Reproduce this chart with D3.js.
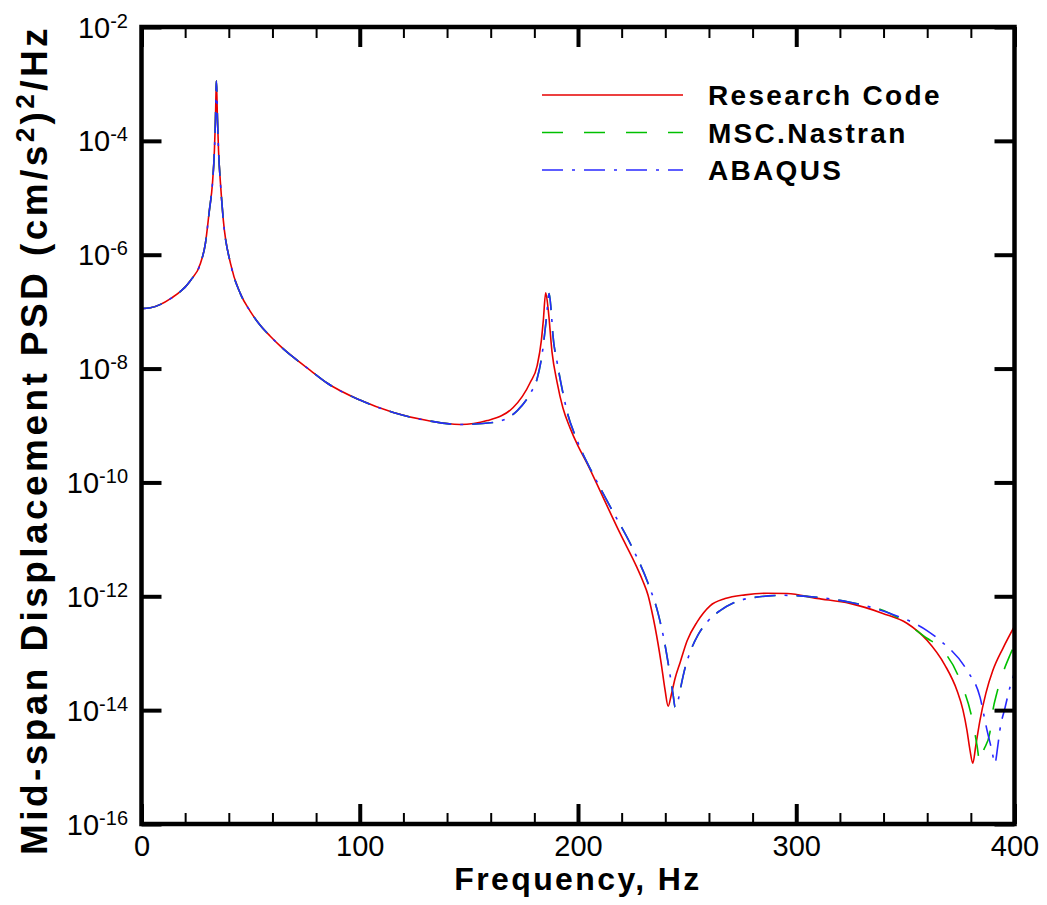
<html>
<head>
<meta charset="utf-8">
<title>Mid-span displacement PSD</title>
<style>
  body { margin: 0; background: #fff; }
  svg text { font-family: "Liberation Sans", Arial, Helvetica, sans-serif; fill: #000; }
  .axis .domain { display: none; }
  .axis line { stroke: #000; }
  .major line { stroke-width: 4; }
  .minor line { stroke-width: 2; }
  .xlab text { font-size: 29px; }
</style>
</head>
<body>
<script src="https://cdn.jsdelivr.net/npm/d3@7/dist/d3.min.js"></script>
<script>

// ---- data ----
// 0 - 150 Hz: the three codes overlap
var lowFreq = [0, 4.1, 13.3, 22.4, 27.0, 29.3, 31.1, 32.5, 33.4, 33.9, 34.3, 34.8, 35.3, 36.2, 37.5,
               40.8, 45.3, 49.7, 54.3, 58.9, 63.5, 69.4, 77.2, 85.0, 100.1, 115.4, 131.0, 146.0];
var lowPsd  = [1.13e-7, 1.17e-7, 1.69e-7, 3.5e-7, 7.0e-7, 1.6e-6, 6.0e-6, 1.76e-5, 6.7e-5, 2.5e-4, 1.13e-3,
               2.5e-4, 6.7e-5, 1.76e-5, 4.0e-6, 6.95e-7, 2.07e-7, 1.03e-7, 5.83e-8, 3.73e-8, 2.5e-8, 1.6e-8,
               9.4e-9, 5.58e-9, 2.8e-9, 1.69e-9, 1.22e-9, 1.04e-9];

// Research Code above 150 Hz
var researchFreq = [158.4, 170.3, 178.1, 181.3, 183.2, 184.1, 185.2, 186.4, 188.1, 190.4, 193.1, 196.4,
                    200.0, 204.1, 211.5, 219.3, 227.1, 229.7, 232.1, 233.7, 235.3, 238.1, 239.9, 241.3,
                    242.7, 244.5, 246.8, 250.0, 254.6, 260.5, 267.4, 276.6, 286.6, 295.8, 309.5, 324.6,
                    339.7, 350.7, 359.9, 368.1, 373.6, 376.4, 378.2, 379.6, 380.9, 382.3, 384.2, 386.9,
                    390.1, 394.7, 400];
var researchPsd  = [1.22e-9, 2.07e-9, 5.7e-9, 1.13e-8, 3.1e-8, 6.95e-8, 2.15e-7, 1.04e-7, 1.95e-8, 5.8e-9,
                    2.03e-9, 9.0e-10, 4.37e-10, 2.19e-10, 5.46e-11, 1.27e-11, 3.16e-12, 1.86e-12, 1.04e-12,
                    5.74e-13, 2.89e-13, 6.73e-14, 2.24e-14, 1.17e-14, 1.83e-14, 3.64e-14, 6.9e-14, 1.66e-13,
                    3.55e-13, 6.8e-13, 9.1e-13, 1.06e-12, 1.13e-12, 1.12e-12, 9.2e-13, 7.5e-13, 5.0e-13,
                    3.36e-13, 1.69e-13, 6.2e-14, 2.24e-14, 1.0e-14, 4.46e-15, 1.99e-15, 1.17e-15, 2.43e-15,
                    6.7e-15, 1.99e-14, 5.0e-14, 1.22e-13, 2.98e-13];

// MSC.Nastran and ABAQUS overlap from 150 to ~345 Hz
var femFreq = [161.2, 172.2, 178.1, 181.3, 183.6, 185.4, 186.8, 187.7, 188.5, 190.4, 193.1, 195.4,
               198.6, 201.8, 206.4, 215.6, 224.8, 232.1, 236.7, 239.9, 242.2, 243.6, 244.5, 245.9,
               246.8, 249.1, 251.4, 255.0, 259.2, 265.1, 271.1, 278.8, 294.0, 309.5, 324.6, 343.0];
var femPsd  = [1.13e-9, 1.83e-9, 3.64e-9, 6.7e-9, 1.83e-8, 6.95e-8, 2.07e-7, 1.04e-7, 3.9e-8, 1.31e-8,
               3.72e-9, 1.53e-9, 6.8e-10, 3.43e-10, 1.52e-10, 3.28e-11, 7.24e-12, 1.69e-12, 5.0e-13,
               1.38e-13, 4.1e-14, 1.83e-14, 1.13e-14, 1.5e-14, 2.24e-14, 5.6e-14, 1.05e-13, 2.1e-13,
               3.55e-13, 5.6e-13, 7.6e-13, 9.3e-13, 1.04e-12, 9.6e-13, 7.85e-13, 5.0e-13];

var nastranTailFreq = [359.9, 365.8, 375.0, 381.0, 382.8, 384.2, 385.5, 388.7, 390.1, 391.9, 397.9, 400];
var nastranTailPsd  = [1.83e-13, 1.27e-13, 3.36e-14, 5.9e-15, 2.43e-15, 1.17e-15, 1.8e-15, 4.0e-15,
                       1.0e-14, 1.99e-14, 9.2e-14, 1.38e-13];

var abaqusTailFreq = [359.9, 365.8, 378.2, 384.2, 387.4, 389.6, 391.0, 392.4, 393.3, 395.6, 397.9, 400];
var abaqusTailPsd  = [2.5e-13, 1.69e-13, 5.0e-14, 1.69e-14, 4.46e-15, 2.0e-15, 1.17e-15, 2.43e-15,
                      4.46e-15, 1.08e-14, 2.5e-14, 4.6e-14];

var seriesNames = ["Research Code", "MSC.Nastran", "ABAQUS"];

var xMajorTicks = [0, 100, 200, 300, 400];
var xMinorTicks = [20, 40, 60, 80, 120, 140, 160, 180, 220, 240, 260, 280, 320, 340, 360, 380];
var yMajorTicks = [1e-2, 1e-4, 1e-6, 1e-8, 1e-10, 1e-12, 1e-14, 1e-16];
var yTickExponents = ["-2", "-4", "-6", "-8", "-10", "-12", "-14", "-16"];

function pairs(f, p) {
  return f.map(function(d, i) { return [d, p[i]]; });
}

var series = [
  { name: seriesNames[0], color: "#e60000", dash: null,
    values: pairs(lowFreq, lowPsd).concat(pairs(researchFreq, researchPsd)) },
  { name: seriesNames[1], color: "#00c000", dash: "21,21",
    values: pairs(lowFreq, lowPsd).concat(pairs(femFreq, femPsd), pairs(nastranTailFreq, nastranTailPsd)) },
  { name: seriesNames[2], color: "#2828ff", dash: "21,9,3,9",
    values: pairs(lowFreq, lowPsd).concat(pairs(femFreq, femPsd), pairs(abaqusTailFreq, abaqusTailPsd)) }
];

// ---- layout ----
var width = 1047, height = 905;
var plotLeft = 141.5, plotRight = 1014.5, plotTop = 27, plotBottom = 824;

var svg = d3.select("body").append("svg")
    .attr("width", width)
    .attr("height", height);

var x = d3.scaleLinear().domain([0, 400]).range([plotLeft, plotRight]);
var y = d3.scaleLog().domain([1e-16, 1e-2]).range([plotBottom, plotTop]);

// clip so curves stay inside the frame
svg.append("clipPath").attr("id", "plot")
  .append("rect").attr("x", plotLeft).attr("y", plotTop)
  .attr("width", plotRight - plotLeft).attr("height", plotBottom - plotTop);

var line = d3.line()
    .x(function(d) { return x(d[0]); })
    .y(function(d) { return y(d[1]); })
    .curve(d3.curveMonotoneX);

svg.append("g").attr("clip-path", "url(#plot)")
  .selectAll("path")
  .data(series)
  .enter()
  .append("path")
  .attr("d", function(d) { return line(d.values); })
  .attr("fill", "none")
  .attr("stroke", function(d) { return d.color; })
  .attr("stroke-width", 1.6)
  .attr("stroke-dasharray", function(d) { return d.dash; });

// ---- axes ----
function tidy(g) {
  g.attr("font-size", null).attr("font-family", null);
}

svg.append("g").attr("class", "axis major xlab")
  .attr("transform", "translate(0," + plotBottom + ")")
  .call(d3.axisBottom(x).tickValues(xMajorTicks).tickSize(-20).tickPadding(11).tickFormat(d3.format("d")))
  .call(tidy);
svg.append("g").attr("class", "axis minor")
  .attr("transform", "translate(0," + plotBottom + ")")
  .call(d3.axisBottom(x).tickValues(xMinorTicks).tickSize(-11).tickFormat(""));
svg.append("g").attr("class", "axis major")
  .attr("transform", "translate(0," + plotTop + ")")
  .call(d3.axisTop(x).tickValues(xMajorTicks).tickSize(-20).tickFormat(""));
svg.append("g").attr("class", "axis minor")
  .attr("transform", "translate(0," + plotTop + ")")
  .call(d3.axisTop(x).tickValues(xMinorTicks).tickSize(-11).tickFormat(""));

svg.append("g").attr("class", "axis major")
  .attr("transform", "translate(" + plotLeft + ",0)")
  .call(d3.axisLeft(y).tickValues(yMajorTicks).tickSize(-20).tickFormat(""));
svg.append("g").attr("class", "axis major")
  .attr("transform", "translate(" + plotRight + ",0)")
  .call(d3.axisRight(y).tickValues(yMajorTicks).tickSize(-20).tickFormat(""));

// y tick labels 10^n
var ylab = svg.append("g").selectAll("text")
  .data(yMajorTicks)
  .enter()
  .append("text")
  .attr("x", 128)
  .attr("y", function(d) { return y(d) + 10.5; })
  .attr("text-anchor", "end")
  .attr("font-size", 29);
ylab.append("tspan").text("10");
ylab.append("tspan")
  .attr("font-size", 20)
  .attr("dy", -10)
  .text(function(d, i) { return yTickExponents[i]; });

// frame
svg.append("rect")
  .attr("x", plotLeft).attr("y", plotTop)
  .attr("width", plotRight - plotLeft).attr("height", plotBottom - plotTop)
  .attr("fill", "none")
  .attr("stroke", "#000")
  .attr("stroke-width", 4.5);

// axis titles
svg.append("text")
  .attr("x", (plotLeft + plotRight) / 2)
  .attr("y", 890)
  .attr("text-anchor", "middle")
  .attr("font-size", 32)
  .attr("font-weight", "bold")
  .attr("letter-spacing", 2.4)
  .text("Frequency, Hz");

var ytitle = svg.append("text")
  .attr("transform", "translate(47,440) rotate(-90)")
  .attr("text-anchor", "middle")
  .attr("font-size", 37)
  .attr("font-weight", "bold");
ytitle.append("tspan").text("Mid-span Displacement PSD (cm/s");
ytitle.append("tspan").attr("font-size", 26).attr("dy", -13).text("2");
ytitle.append("tspan").attr("dy", 13).text(")");
ytitle.append("tspan").attr("font-size", 26).attr("dy", -13).text("2");
ytitle.append("tspan").attr("dy", 13).text("/Hz");
// spread the title to the length it has in the reference
var ytitleLen = ytitle.node().getComputedTextLength();
var ytitleChars = ytitle.text().length;
ytitle.attr("letter-spacing", Math.max(0, (830 - ytitleLen) / ytitleChars));

// ---- legend ----
var legend = svg.append("g").selectAll("g")
  .data(series)
  .enter()
  .append("g")
  .attr("transform", function(d, i) { return "translate(542," + (95 + i * 37.5) + ")"; });
legend.append("line")
  .attr("x1", 0).attr("x2", 141)
  .attr("stroke", function(d) { return d.color; })
  .attr("stroke-width", 1.6)
  .attr("stroke-dasharray", function(d) { return d.dash; });
legend.append("text")
  .attr("x", 166)
  .attr("y", 10)
  .attr("font-size", 28)
  .attr("font-weight", "bold")
  .attr("letter-spacing", 2.3)
  .text(function(d) { return d.name; });

</script>
</body>
</html>
